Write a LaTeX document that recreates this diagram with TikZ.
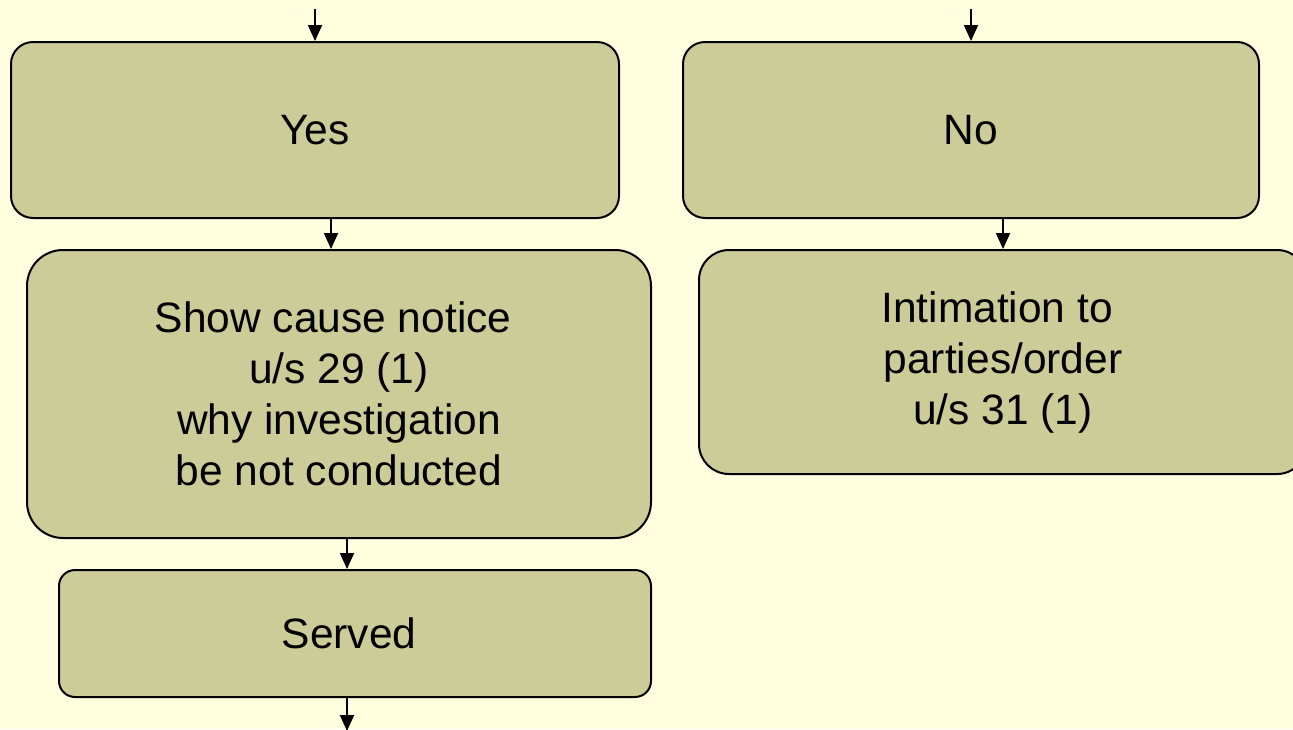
\documentclass[tikz,border=0pt]{standalone}
\usepackage{fontspec}
\setmainfont{Liberation Sans}
\usetikzlibrary{arrows.meta,calc}
\definecolor{pagebg}{RGB}{255,255,224}
\definecolor{boxfill}{RGB}{204,204,153}
% a trailing word space that still counts when a line is centred
\newcommand{\tsp}{\hspace*{0.278em}}
\begin{document}
\begin{tikzpicture}[x=1pt,y=-1pt,
  flowbox/.style={draw=black,line width=2pt,fill=boxfill,rounded corners=#1,
    align=center,inner sep=0pt,font=\fontsize{42.5}{51}\selectfont},
  flowbox/.default=22pt,
  arr/.style={line width=2pt,-{Triangle[width=14pt,length=16pt]}}]
\useasboundingbox (0,0) rectangle (1293,729);
\clip (0,0) rectangle (1293,729);
\fill[pagebg] (0,0) rectangle (1293,729);

% boxes
\node[flowbox, minimum width=608pt, minimum height=176pt] (yes) at (315,130) {Yes};
\node[flowbox, minimum width=576pt, minimum height=176pt] (no) at (971,130) {No};
\node[flowbox=36pt, minimum width=624pt, minimum height=288pt] (show) at (339,394)
  {Show cause notice\tsp\\u/s 29 (1)\\why investigation\\be not conducted};
\node[flowbox=30pt, minimum width=608pt, minimum height=224pt] (intim) at (1003,362)
  {Intimation to\tsp\\parties/order\\u/s 31 (1)};
\node[flowbox=16pt, minimum width=592pt, minimum height=127pt] (served) at (355,633.5) {Served\tsp};

% free ends of the incoming and outgoing connectors
\coordinate (inyes) at (315,9);
\coordinate (inno) at (971,9);
\coordinate (out) at (347,731);

% connectors
\draw[arr] (inyes) -- (yes.north);
\draw[arr] (inno) -- (no.north);
\draw[arr] (yes.south -| 331,0) -- (show.north -| 331,0);
\draw[arr] (no.south -| 1003,0) -- (intim.north);
\draw[arr] (show.south -| 347,0) -- (served.north -| 347,0);
\draw[arr] (served.south -| out) -- (out);
\end{tikzpicture}
\end{document}
